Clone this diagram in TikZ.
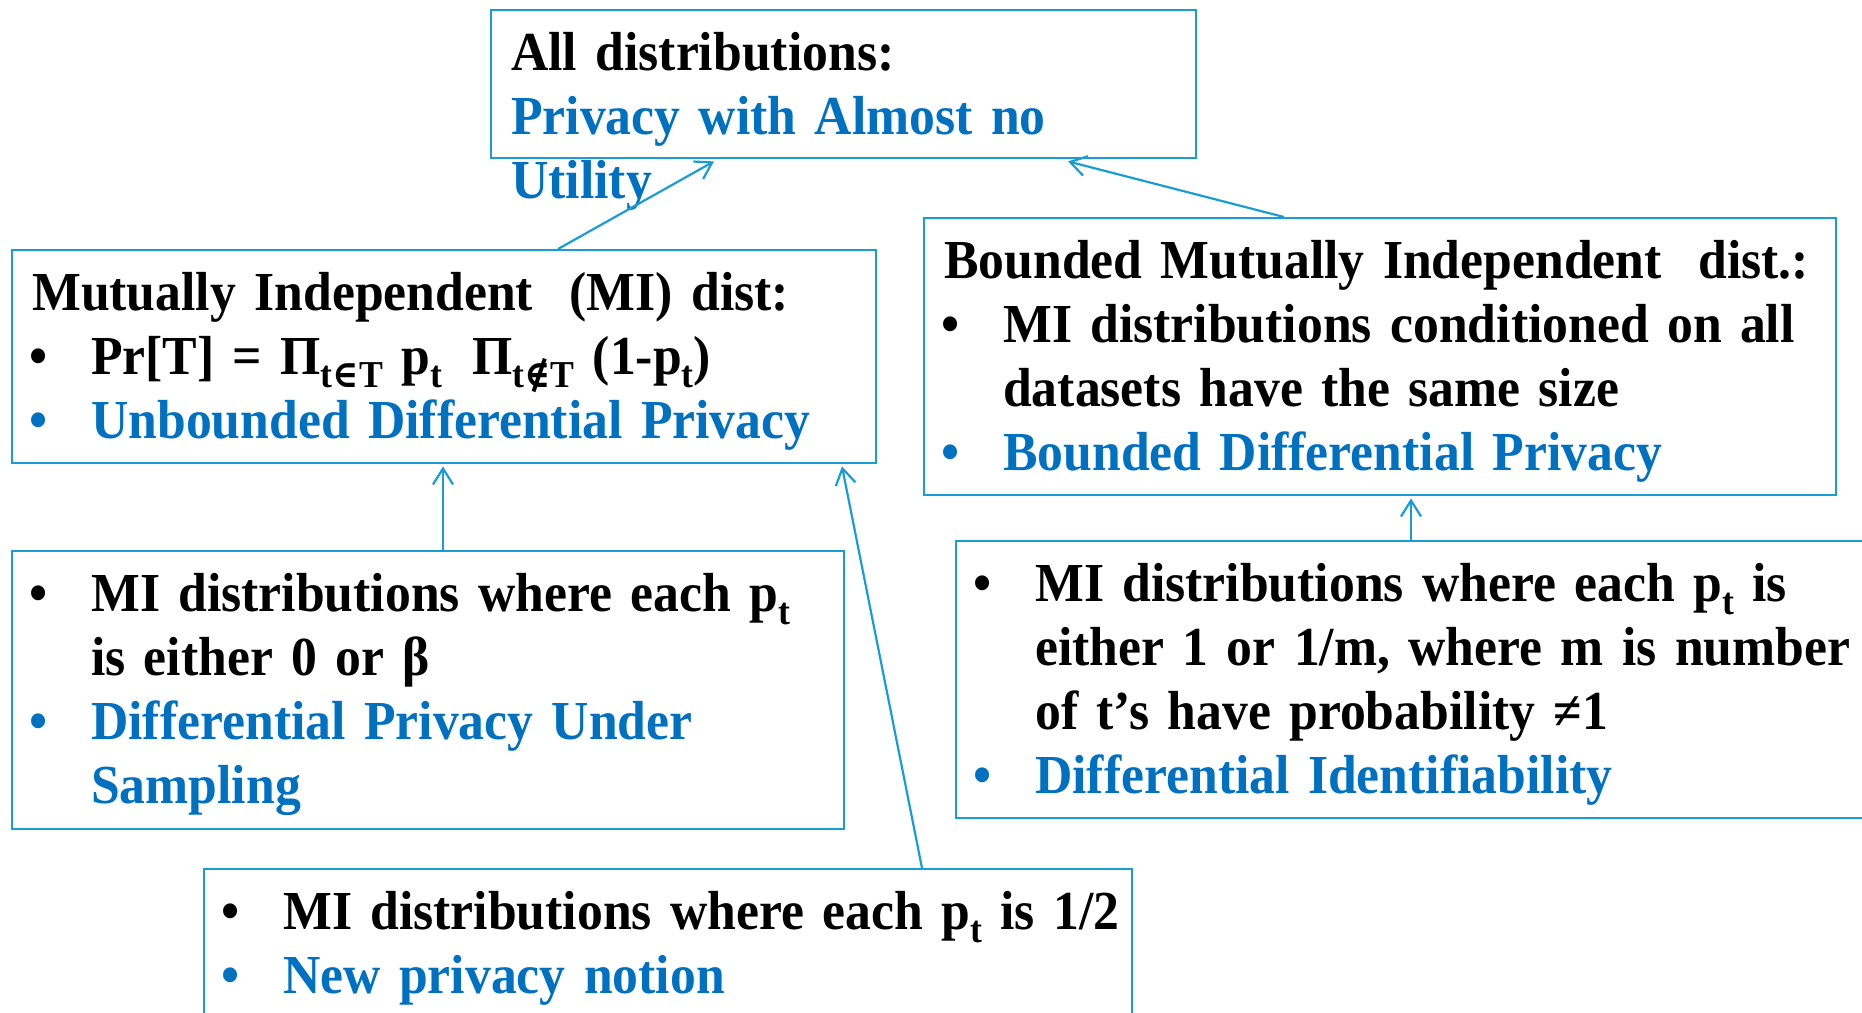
\documentclass[tikz,border=0pt]{standalone}
\usepackage{fontspec}
\setmainfont{Liberation Serif}[FakeStretch=0.94]
\newfontfamily\symfont{DejaVu Serif}[FakeStretch=0.94]
\usetikzlibrary{arrows.meta,calc}
\definecolor{boxblue}{HTML}{1A9CD4}
\definecolor{notion}{HTML}{0070C0}
\hyphenpenalty=10000

% bullet line with hanging indent, optional colour
\newcommand{\bitem}[2][black]{\hangindent=59pt\hangafter=1%
  \makebox[59pt][l]{\makebox[12pt][c]{\color{#1}\textbullet}}{\color{#1}#2}\par}
% lowered small index
\newcommand{\lo}[1]{\raisebox{-0.24em}{\fontsize{38}{38}\selectfont #1}}

\begin{document}
\begin{tikzpicture}[x=1pt, y=-1pt,
  frame/.style={draw=boxblue, line width=2.4pt, anchor=north west, inner sep=0pt},
  body/.style={anchor=base west, inner sep=0pt, align=left, text width=1000pt,
    font=\fontsize{55}{64}\selectfont\bfseries},
  link/.style={draw=boxblue, line width=2.2pt, -{Straight Barb[length=16pt,width=20pt]}},
]
\clip (0,0) rectangle (1862,1012);

% frames
\node[frame, minimum width=705pt, minimum height=148pt] (alldist)  at (490,9)   {};
\node[frame, minimum width=864pt, minimum height=213pt] (mi)       at (11,249)  {};
\node[frame, minimum width=912pt, minimum height=277pt] (bmi)      at (923,217) {};
\node[frame, minimum width=832pt, minimum height=278pt] (sampling) at (11,550)  {};
\node[frame, minimum width=960pt, minimum height=277pt] (ident)    at (955,540) {};
\node[frame, minimum width=928pt, minimum height=200pt] (half)     at (203,868) {};

% texts, first baseline 61pt under the frame top
\node[body] (alldist text) at ([shift={(21pt,-61pt)}]alldist.north west)
  {All distributions:\newline\color{notion}Privacy with Almost no\newline Utility};
\node[body] (mi text) at ([shift={(21pt,-61pt)}]mi.north west)
  {Mutually Independent~ (MI) dist:\par
   \bitem{Pr[T] = Π\lo{t{\symfont∈}T} p\lo{t}\hspace{30pt}Π\lo{t{\symfont∉}T} (1-p\lo{t})}
   \bitem[notion]{Unbounded Differential Privacy}};
\node[body] (bmi text) at ([shift={(21pt,-61pt)}]bmi.north west)
  {Bounded Mutually Independent~ dist.:\par
   \bitem{MI distributions conditioned on all\newline datasets have the same size}
   \bitem[notion]{Bounded Differential Privacy}};
\node[body] (sampling text) at ([shift={(21pt,-61pt)}]sampling.north west)
  {\bitem{MI distributions where each p\lo{t}\newline is either 0 or β}
   \bitem[notion]{Differential Privacy Under\newline Sampling}};
\node[body] (ident text) at ([shift={(21pt,-61pt)}]ident.north west)
  {\bitem{MI distributions where each p\lo{t} is\newline either 1 or 1/m, where m is number\newline of t’s have probability ≠1}
   \bitem[notion]{Differential Identifiability}};
\node[body] (half text) at ([shift={(21pt,-61pt)}]half.north west)
  {\bitem{MI distributions where each p\lo{t} is 1/2}
   \bitem[notion]{New privacy notion}};

% connectors
\draw[link] ([xshift=547pt]mi.north west) -- ([xshift=224pt,yshift=-2pt]alldist.south west);
\draw[link] ([xshift=361pt]bmi.north west) -- ([xshift=578pt,yshift=-2pt]alldist.south west);
\draw[link] ([xshift=432pt]sampling.north west) -- ([xshift=432pt,yshift=-2pt]mi.south west);
\draw[link] ([xshift=719pt]half.north west) -- ([xshift=831pt,yshift=-2pt]mi.south west);
\draw[link] ([xshift=456pt]ident.north west) -- ([xshift=488pt,yshift=-2pt]bmi.south west);
\end{tikzpicture}
\end{document}
